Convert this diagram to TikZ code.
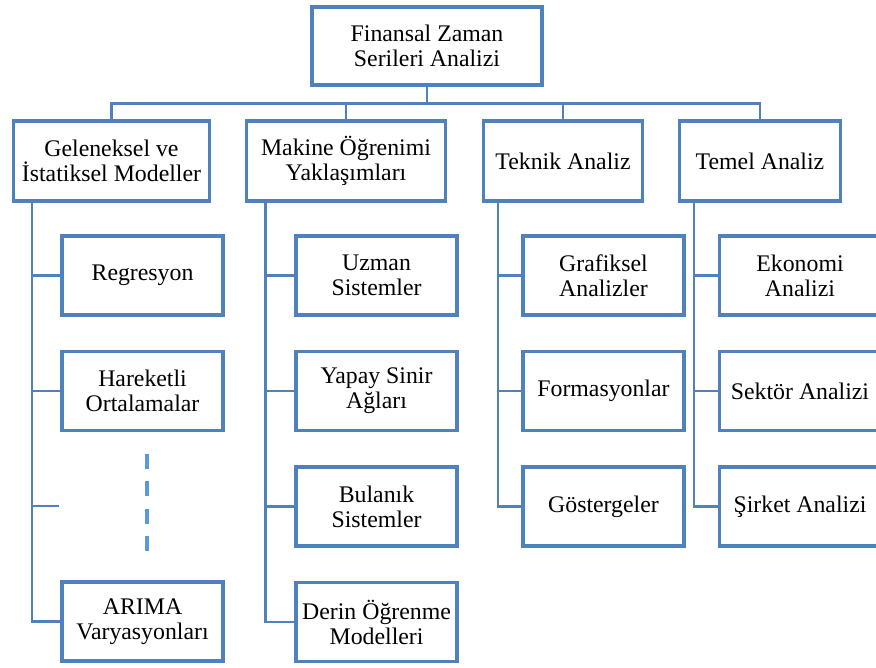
\documentclass[tikz,border=0pt]{standalone}
\usepackage{fontspec}
\setmainfont{Liberation Serif}
\usepackage{tikz}
\usetikzlibrary{positioning}
\usetikzlibrary{calc}
\usepackage{xcolor}
\definecolor{boxblue}{RGB}{79,129,189}
\definecolor{dotblue}{RGB}{91,155,213}

\begin{document}
\begin{tikzpicture}[
  font=\fontsize{17.85pt}{18.75pt}\selectfont,
  top/.style={draw=boxblue, line width=2.6pt, outer sep=0pt, inner sep=2pt, minimum width=172.5pt, minimum height=58.5pt, align=center},
  cat/.style={draw=boxblue, line width=2.6pt, outer sep=0pt, inner sep=2pt, minimum height=60pt, align=center},
  leaf/.style={draw=boxblue, line width=2.6pt, outer sep=0pt, inner sep=2pt, minimum width=120.75pt, minimum height=59.25pt, align=center},
  link/.style={draw=boxblue, line width=1.8pt},
  dots/.style={draw=dotblue, line width=2.4pt, dash pattern=on 11pt off 9.6pt}
]
\useasboundingbox (0,0) rectangle (657pt,-501pt);
\clip (0,0) rectangle (657pt,-501pt);

\node[top] (root) at (320.25pt,-34.5pt) {Finansal Zaman\\Serileri Analizi};

\node[cat, minimum width=147pt, below=27pt of root, xshift=-236.65pt] (gen) {Geleneksel ve\\İstatiksel Modeller};
\node[cat, minimum width=149.25pt, below=27pt of root, xshift=-60.75pt] (mak) {Makine Öğrenimi\\Yaklaşımları};
\node[cat, minimum width=119.25pt, below=27pt of root, xshift=102pt] (tek) {Teknik Analiz};
\node[cat, minimum width=120.75pt, below=27pt of root, xshift=249.75pt] (tem) {Temel Analiz};

% geleneksel
\node[leaf, below=26.25pt of gen, xshift=23.3pt] (reg) {Regresyon};
\node[leaf, below=27.4pt of reg] (har) {Hareketli\\Ortalamalar};
\node[leaf, below=113.6pt of har] (arima) {ARIMA\\Varyasyonları};

% makine ogrenimi
\node[leaf, below=26.25pt of mak, xshift=22.9pt] (uzm) {Uzman\\Sistemler};
\node[leaf, below=27.4pt of uzm] (yap) {Yapay Sinir\\Ağları};
\node[leaf, below=27.4pt of yap] (bul) {Bulanık\\Sistemler};
\node[leaf, below=27.4pt of bul] (der) {Derin Öğrenme\\Modelleri};

% teknik
\node[leaf, below=26.25pt of tek, xshift=30.35pt] (gra) {Grafiksel\\Analizler};
\node[leaf, below=27.4pt of gra] (for) {Formasyonlar};
\node[leaf, below=27.4pt of for] (gos) {Göstergeler};

% temel
\node[leaf, below=26.25pt of tem, xshift=30pt] (eko) {Ekonomi\\Analizi};
\node[leaf, below=27.4pt of eko] (sek) {Sektör Analizi};
\node[leaf, below=27.4pt of sek] (sir) {Şirket Analizi};

% top level links
\draw[link] (root.south) -- ++(0,-13.9pt) coordinate (bus);
\draw[link] (gen.north) |- (bus) -| (tem.north);
\draw[link] (mak.north) -- (mak.north |- bus);
\draw[link] (tek.north) -- (tek.north |- bus);

% trunks
\coordinate (gtrunk) at ([xshift=13.9pt]gen.south west);
\coordinate (mtrunk) at ([xshift=14.2pt]mak.south west);
\coordinate (ttrunk) at ([xshift=10.9pt]tek.south west);
\coordinate (etrunk) at ([xshift=10.9pt]tem.south west);

\draw[link] (gtrunk) |- (arima.west);
\draw[link] (mtrunk) |- (der.west);
\draw[link] (ttrunk) |- (gos.west);
\draw[link] (etrunk) |- (sir.west);

\foreach \c in {reg,har} \draw[link] (\c.west) -- (\c.west -| gtrunk);
\foreach \c in {uzm,yap,bul} \draw[link] (\c.west) -- (\c.west -| mtrunk);
\foreach \c in {gra,for} \draw[link] (\c.west) -- (\c.west -| ttrunk);
\foreach \c in {eko,sek} \draw[link] (\c.west) -- (\c.west -| etrunk);

% gap in the list
\coordinate (gap) at ($(har.west)!0.5!(arima.west)+(-2pt,0)$);
\draw[link] (gtrunk |- gap) -- (gap);
\coordinate (dtop) at ([xshift=3.4pt,yshift=-17.6pt]har.south);
\coordinate (dbot) at ([xshift=3.4pt,yshift=22.9pt]arima.north);
\draw[dots] (dtop) -- (dbot);

\end{tikzpicture}
\end{document}
